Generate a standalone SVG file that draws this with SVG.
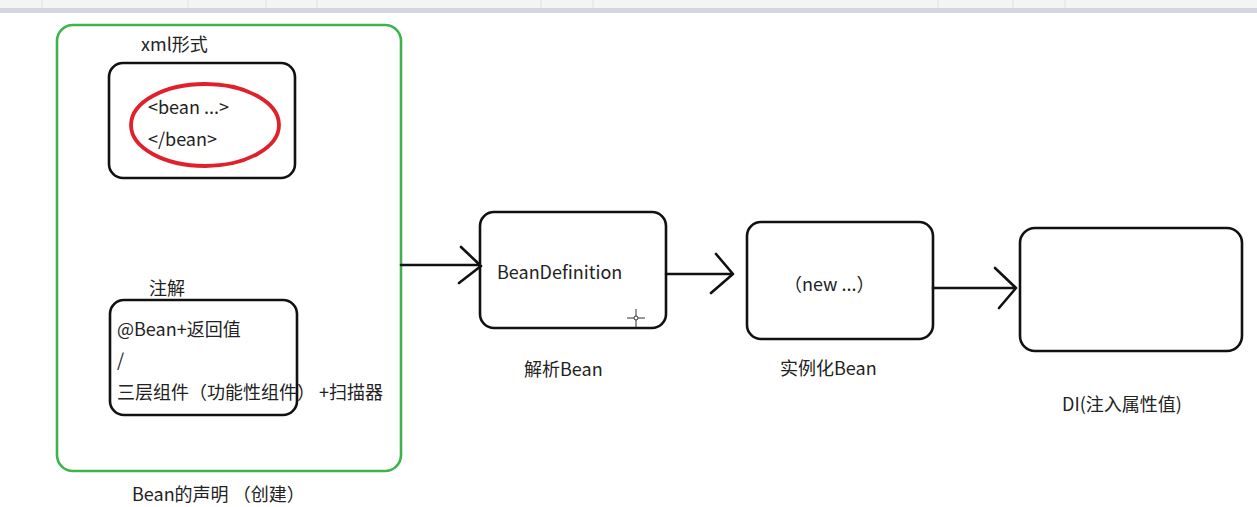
<svg xmlns="http://www.w3.org/2000/svg" width="1257" height="507" viewBox="0 0 1257 507">
<style>
.box{fill:none;stroke:#111;stroke-width:2.6}
.t{font-family:"Noto Sans CJK SC","Noto Sans",sans-serif;font-size:18px;fill:#222}
.con{fill:none;stroke:#111;stroke-width:2.6;stroke-linecap:round;stroke-linejoin:round}
.sep{stroke:#dfe2e6;stroke-width:1}
</style>
<rect width="1257" height="507" fill="#ffffff"/>
<g id="toolbar">
<rect x="0" y="0" width="1257" height="8" fill="#f2f4f6"/>
<rect x="0" y="8" width="1257" height="5" fill="#d3d6df"/>
<line class="sep" x1="42" y1="0" x2="42" y2="8"/>
<line class="sep" x1="188" y1="0" x2="188" y2="8"/>
<line class="sep" x1="266" y1="0" x2="266" y2="8"/>
<line class="sep" x1="317" y1="0" x2="317" y2="8"/>
<line class="sep" x1="541" y1="0" x2="541" y2="8"/>
<line class="sep" x1="593" y1="0" x2="593" y2="8"/>
<line class="sep" x1="938" y1="0" x2="938" y2="8"/>
<line class="sep" x1="1013" y1="0" x2="1013" y2="8"/>
<line class="sep" x1="1065" y1="0" x2="1065" y2="8"/>
</g>
<g id="declaration">
<rect x="57" y="25" width="344" height="446" rx="16" fill="none" stroke="#3cb44b" stroke-width="2.6"/>
<text class="t" x="132" y="501">Bean的声明 （创建）</text>
</g>
<g id="xml">
<text class="t" x="141" y="51">xml形式</text>
<rect class="box" x="109" y="63" width="186" height="115" rx="14"/>
<ellipse cx="205" cy="125" rx="74" ry="41" fill="none" stroke="#e0202a" stroke-width="3.8"/>
<text class="t" x="148" y="114">&lt;bean ...&gt;</text>
<text class="t" x="148" y="146">&lt;/bean&gt;</text>
</g>
<g id="annotation">
<text class="t" x="149" y="295">注解</text>
<rect class="box" x="110" y="300" width="187" height="115" rx="14"/>
<text class="t" x="117" y="336">@Bean+返回值</text>
<text class="t" x="117" y="367">/</text>
<text class="t" x="117" y="399">三层组件（功能性组件） +扫描器</text>
</g>
<g id="beandefinition">
<rect class="box" x="480" y="212" width="186" height="116" rx="14"/>
<text class="t" x="497" y="279">BeanDefinition</text>
<text class="t" x="524" y="376">解析Bean</text>
</g>
<g id="instantiate">
<rect class="box" x="747" y="222" width="186" height="117" rx="14"/>
<text class="t" x="784" y="291">（new ...）</text>
<text class="t" x="780" y="375">实例化Bean</text>
</g>
<g id="di">
<rect class="box" x="1020" y="228" width="222" height="123" rx="15"/>
<text class="t" x="1062" y="411">DI(注入属性值)</text>
</g>
<g id="connectors">
<path class="con" d="M401 265 H480 M461 247 L481 266 L459 283"/>
<path class="con" d="M666 274 H733 M716 254 L733 274 L711 293"/>
<path class="con" d="M933 288 H1016 M995 268 L1016 288 L999 308"/>
</g>
<g id="cursor" stroke="#333" stroke-width="1" fill="none">
<line x1="627" y1="318" x2="645" y2="318"/>
<line x1="636" y1="309" x2="636" y2="327"/>
<circle cx="636" cy="318" r="2" fill="#fff"/>
</g>
</svg>
